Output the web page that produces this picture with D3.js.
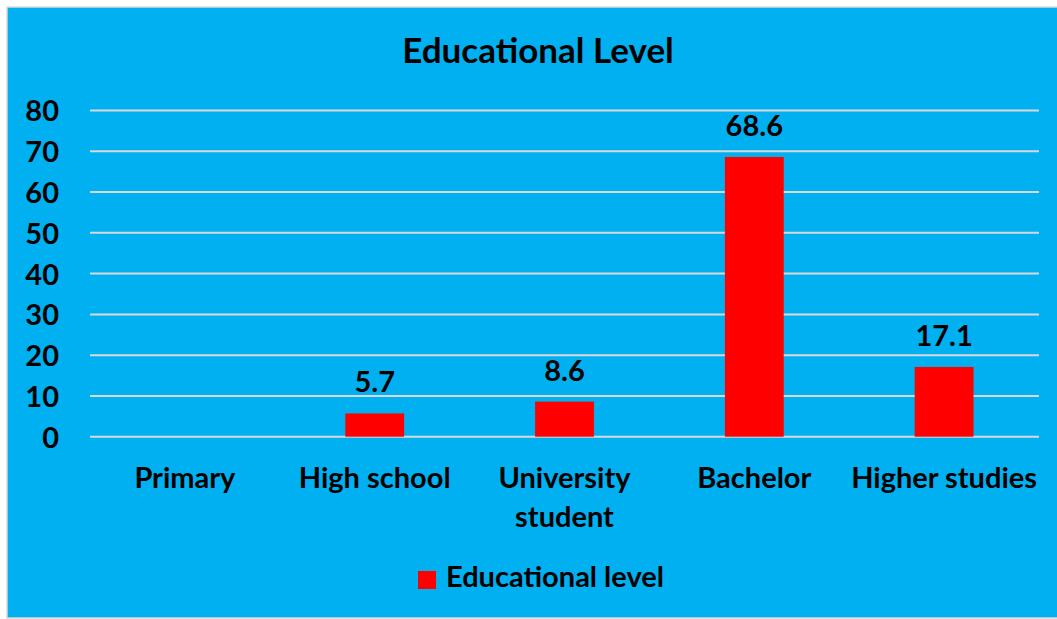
<!DOCTYPE html>
<html>
<head>
<meta charset="utf-8">
<script src="https://cdn.jsdelivr.net/npm/d3@7"></script>
<style>
  html, body { margin: 0; padding: 0; background: #ffffff; }
  svg { display: block; }
  text { font-family: Lato, "Noto Sans", sans-serif; font-weight: 700; fill: #000; }
</style>
</head>
<body>
<svg id="chart" width="1057" height="619"></svg>
<script>
const title = "Educational Level";
const seriesName = "Educational level";
const categories = ["Primary", "High school", "University\nstudent", "Bachelor", "Higher studies"];
const values = [null, 5.7, 8.6, 68.6, 17.1];
const yTicks = [0, 10, 20, 30, 40, 50, 60, 70, 80];

const svg = d3.select("#chart");
const W = 1057, H = 619;

// chart background
svg.append("rect")
  .attr("x", 7).attr("y", 7)
  .attr("width", W + 10).attr("height", 611)
  .attr("fill", "#00B0F0")
  .attr("stroke", "#d9d9d9").attr("stroke-width", 1.5);

const plot = { left: 90, right: 1039, top: 110.5, bottom: 436.7 };

const x = d3.scaleBand().domain(categories).range([plot.left, plot.right]).padding(0);
const y = d3.scaleLinear().domain([0, 80]).range([plot.bottom, plot.top]);
const barW = x.step() * 0.31;

// gridlines
svg.append("g").selectAll("line").data(yTicks).join("line")
  .attr("x1", plot.left).attr("x2", plot.right)
  .attr("y1", d => y(d)).attr("y2", d => y(d))
  .attr("stroke", "#d9d9d9").attr("stroke-width", 2);

// y axis labels
const yAxis = d3.axisLeft(y).tickValues(yTicks).tickSize(0).tickPadding(0);
const yg = svg.append("g").attr("transform", `translate(59,0)`).call(yAxis);
yg.select(".domain").remove();
yg.selectAll("text").attr("font-size", 29).attr("font-family", "Lato").attr("font-weight", 700).attr("fill", "#000").attr("dy", "0.36em");

// bars
const data = categories.map((c, i) => ({ c, v: values[i] }));
svg.append("g").selectAll("rect").data(data.filter(d => d.v != null)).join("rect")
  .attr("x", d => x(d.c) + x.bandwidth() / 2 - barW / 2)
  .attr("width", barW)
  .attr("y", d => y(d.v))
  .attr("height", d => y(0) - y(d.v))
  .attr("fill", "#FF0000");

// data labels
svg.append("g").selectAll("text").data(data.filter(d => d.v != null)).join("text")
  .attr("x", d => x(d.c) + x.bandwidth() / 2)
  .attr("y", d => y(d.v) - 21)
  .attr("text-anchor", "middle")
  .attr("font-size", 29)
  .text(d => d.v.toFixed(1));

// category labels
const cg = svg.append("g");
categories.forEach(c => {
  const t = cg.append("text")
    .attr("x", x(c) + x.bandwidth() / 2)
    .attr("y", 488)
    .attr("text-anchor", "middle")
    .attr("font-size", 29);
  c.split("\n").forEach((line, i) => {
    t.append("tspan")
      .attr("x", x(c) + x.bandwidth() / 2)
      .attr("dy", i === 0 ? 0 : 39)
      .text(line);
  });
});

// title
svg.append("text")
  .attr("x", 538).attr("y", 63)
  .attr("text-anchor", "middle")
  .attr("font-size", 35)
  .text(title);

// legend
svg.append("rect")
  .attr("x", 418).attr("y", 571).attr("width", 18).attr("height", 18)
  .attr("fill", "#FF0000");
svg.append("text")
  .attr("x", 446).attr("y", 587)
  .attr("font-size", 29)
  .text(seriesName);
</script>
</body>
</html>
